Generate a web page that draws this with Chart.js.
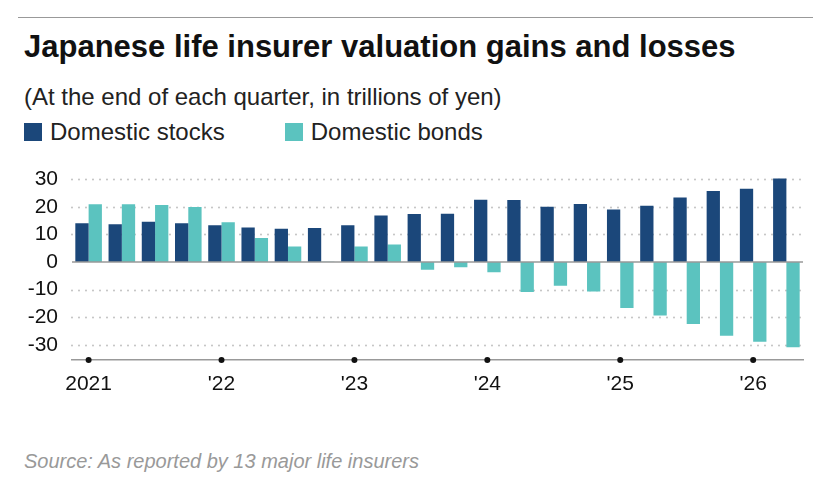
<!DOCTYPE html>
<html><head><meta charset="utf-8">
<script src="https://cdn.jsdelivr.net/npm/chart.js@4"></script>
<style>
body{margin:0;background:#fff;font-family:"Liberation Sans",Arial,sans-serif;width:825px;height:497px;position:relative;overflow:hidden}
#rule{position:absolute;left:18px;right:12px;top:17px;height:1px;background:#999}
#title{position:absolute;left:24px;top:29px;font-size:31px;font-weight:bold;color:#111;white-space:nowrap}
#sub{position:absolute;left:24px;top:83px;font-size:24px;color:#222;white-space:nowrap}
#legend{position:absolute;left:24px;top:118px;font-size:24px;color:#222;display:flex;align-items:center;white-space:nowrap}
.sw{display:inline-block;width:18px;height:18px;margin-right:8px}
#src{position:absolute;left:24px;top:450px;font-size:20px;color:#999;font-style:italic;white-space:nowrap}
#wrap{position:absolute;left:0;top:155px;width:825px;height:240px}
</style></head><body>
<div id="rule"></div>
<div id="title">Japanese life insurer valuation gains and losses</div>
<div id="sub">(At the end of each quarter, in trillions of yen)</div>
<div id="legend"><span class="sw" style="background:#1b477a"></span>Domestic stocks<span style="width:60px"></span><span class="sw" style="background:#5bc3bf"></span>Domestic bonds</div>
<div id="wrap"><canvas id="c"></canvas></div>
<div id="src">Source: As reported by 13 major life insurers</div>
<script>
const categories=["2021","","","","'22","","","","'23","","","","'24","","","","'25","","","","'26",""];
const stocks=[14.0,13.7,14.6,14.0,13.3,12.5,12.0,12.3,13.3,16.8,17.4,17.5,22.5,22.4,20.0,21.0,19.0,20.4,23.3,25.7,26.5,30.2];
const bonds=[20.9,20.9,20.6,19.9,14.4,8.7,5.6,0.1,5.6,6.3,-2.8,-1.9,-3.7,-10.9,-8.6,-10.7,-16.7,-19.4,-22.5,-26.7,-28.9,-30.9];
const yTicks=[30,20,10,0,-10,-20,-30];
const grid={id:'grid',beforeDatasetsDraw(ch){const y=ch.scales.y,a=ch.chartArea,c=ch.ctx;c.save();
yTicks.forEach(v=>{if(v===0)return;const py=Math.round(y.getPixelForValue(v))+0.5;c.fillStyle='#bbb';
for(let x=a.left;x<a.right;x+=7){c.beginPath();c.arc(x,py,0.9,0,Math.PI*2);c.fill();}});c.restore();},
afterDatasetsDraw(ch){const y=ch.scales.y,a=ch.chartArea,c=ch.ctx;c.save();c.strokeStyle='#999';c.lineWidth=1.5;
const py=y.getPixelForValue(0);c.beginPath();c.moveTo(a.left,py);c.lineTo(a.right,py);c.stroke();c.restore();}};
const dots={id:'dots',afterDraw(ch){const x=ch.scales.x,c=ch.ctx,y=ch.chartArea.bottom;c.save();c.fillStyle='#111';
categories.forEach((l,i)=>{if(l){c.beginPath();c.arc(x.getPixelForValue(i),y,3,0,Math.PI*2);c.fill();}});c.restore();}};
new Chart(document.getElementById('c'),{type:'bar',
data:{labels:categories,datasets:[
{label:'Domestic stocks',data:stocks,backgroundColor:'#1b477a',barPercentage:1,categoryPercentage:0.8},
{label:'Domestic bonds',data:bonds,backgroundColor:'#5bc3bf',barPercentage:1,categoryPercentage:0.8}]},
options:{responsive:true,maintainAspectRatio:false,animation:false,
layout:{padding:{top:15,right:22,left:0,bottom:0}},
plugins:{legend:{display:false},tooltip:{enabled:false}},
scales:{
x:{grid:{display:false},border:{color:'#999',width:1.5},
ticks:{autoSkip:false,maxRotation:0,color:'#111',font:{size:21,family:'Liberation Sans'},padding:4},
afterFit(s){s.height=35;}},
y:{min:-35.5,max:32,afterBuildTicks(s){s.ticks=yTicks.map(v=>({value:v}));},
afterFit(s){s.width=72;},
grid:{display:false},border:{display:false},
ticks:{color:'#111',font:{size:21,family:'Liberation Sans'},padding:6}}}},
plugins:[grid,dots]});
</script></body></html>
